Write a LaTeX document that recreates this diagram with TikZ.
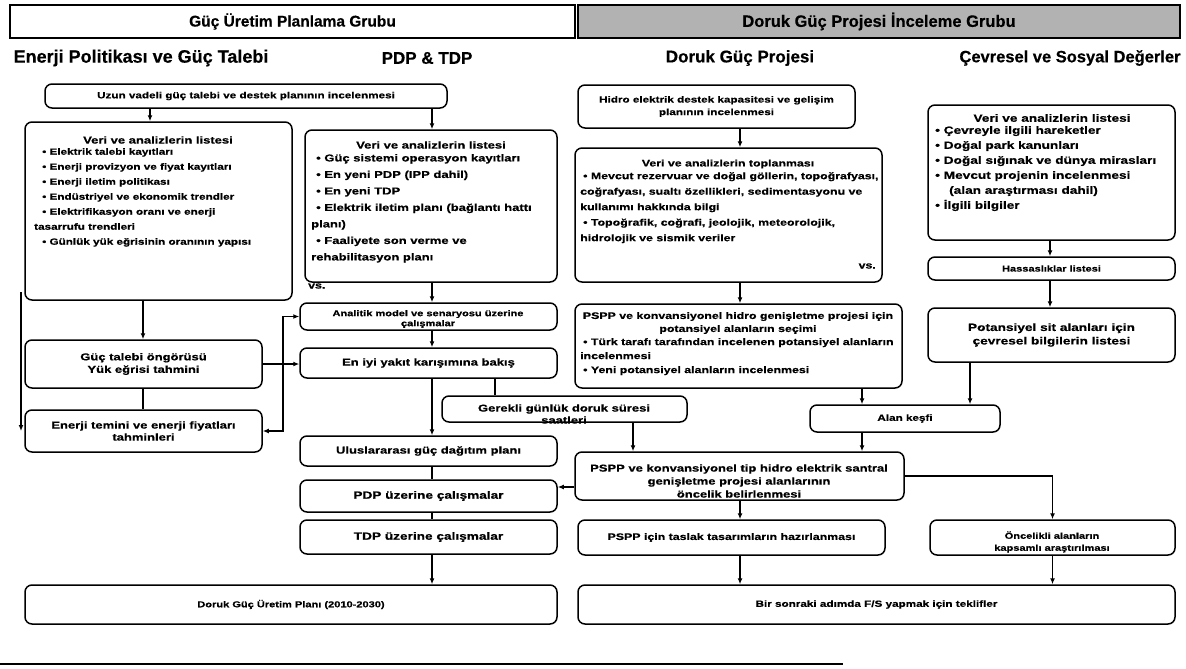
\documentclass[tikz,border=0pt]{standalone}
\usepackage{fontspec}
\setmainfont[BoldFeatures={FakeBold=0.5}]{Liberation Sans}
\newfontfamily\wf[FakeStretch=1.3,BoldFeatures={FakeBold=0.6}]{Liberation Sans}
\usetikzlibrary{arrows.meta,calc}
% wide bold text at a given size and line spacing
\newcommand\bfz[2]{\wf\bfseries\fontsize{#1}{#2}\selectfont}
% box given by its corners (x1,y1) and (x2,y2)
\newcommand\mkbox[7][]{\node[box,minimum width={#5-#3},minimum height={#6-#4},#1] (#2) at ({(#3+#5)/2},{(#4+#6)/2}) {#7};}
\begin{document}
\begin{tikzpicture}[x=1pt,y=-1pt,
  box/.style={draw,line width=1.5pt,rounded corners=7pt,fill=white,inner sep=1pt,align=center,
              font=\bfz{9.5}{11.5}},
  hdr/.style={draw,line width=1.7pt,inner sep=0pt},
  colhd/.style={inner sep=0pt},
  txt/.style={inner sep=0pt,font=\bfz{9.5}{11.5}},
  lst/.style={inner sep=0pt,align=left,anchor=north west},
  arr/.style={-{Latex[length=6pt,width=5pt]},line width=1.2pt},
  ln/.style={line width=1.2pt}]
\useasboundingbox (0,0) rectangle (1186,669);

% group headers
\node[hdr,minimum width=565,minimum height=33,font=\bfseries\fontsize{15.5}{17}\selectfont] (gup) at (292.5,21.5) {Güç Üretim Planlama Grubu};
\node[hdr,fill=black!30,minimum width=602,minimum height=33,font=\bfseries\fontsize{16.5}{18}\selectfont] (dgp) at (879,21.5) {Doruk Güç Projesi İnceleme Grubu};

% column headings
\node[colhd,font=\bfseries\fontsize{18}{20}\selectfont] (c1) at (141,58) {Enerji Politikası ve Güç Talebi};
\node[colhd,font=\bfseries\fontsize{17}{19}\selectfont] (c2) at (427,58) {PDP \& TDP};
\node[colhd,font=\bfseries\fontsize{17}{19}\selectfont] (c3) at (740,58) {Doruk Güç Projesi};
\node[colhd,font=\bfseries\fontsize{16.5}{19}\selectfont] (c4) at (1070,58) {Çevresel ve Sosyal Değerler};

% energy policy and demand
\mkbox[font=\bfz{9}{11}]{uzun}{45}{84}{447}{108}{Uzun vadeli güç talebi ve destek planının incelenmesi}
\mkbox{ldata}{25}{122}{292}{300}{}
\node[txt,font=\bfz{10}{12}] (ldatah) at (158,140) {Veri ve analizlerin listesi};
\node[txt,lst,font=\bfz{9}{15}] (ldatal) at (34,148) {%
\hspace*{8pt}• Elektrik talebi kayıtları\\
\hspace*{8pt}• Enerji provizyon ve fiyat kayıtları\\
\hspace*{8pt}• Enerji iletim politikası\\
\hspace*{8pt}• Endüstriyel ve ekonomik trendler\\
\hspace*{8pt}• Elektrifikasyon oranı ve enerji\\
tasarrufu trendleri\\
\hspace*{8pt}• Günlük yük eğrisinin oranının yapısı};
\mkbox[font=\bfz{10}{12.5}]{guc}{25}{340}{262}{388}{Güç talebi öngörüsü\\Yük eğrisi tahmini}
\mkbox[font=\bfz{10}{12}]{enerji}{25}{410}{262}{452}{Enerji temini ve enerji fiyatları\\tahminleri}

% PDP & TDP
\mkbox{pdata}{305}{130}{557}{282}{}
\node[txt,font=\bfz{10}{12}] (pdatah) at (431,145) {Veri ve analizlerin listesi};
\node[txt,lst,font=\bfz{10}{16.5}] (pdatal) at (311,154) {%
\hspace*{5pt}• Güç sistemi operasyon kayıtları\\
\hspace*{5pt}• En yeni PDP (IPP dahil)\\
\hspace*{5pt}• En yeni TDP\\
\hspace*{5pt}• Elektrik iletim planı (bağlantı hattı\\
planı)\\
\hspace*{5pt}• Faaliyete son verme ve\\
rehabilitasyon planı};
\node[txt,anchor=west] (pdatavs) at (308,286) {vs.};
\mkbox{analitik}{300}{303}{557}{330}{}
\node[txt,align=center,font=\bfz{8.5}{10}] (analitikt) at (428,319) {Analitik model ve senaryosu üzerine\\çalışmalar};
\mkbox[font=\bfz{10}{12}]{eniyi}{300}{348}{557}{378}{En iyi yakıt karışımına bakış}
\mkbox{gerekli}{442}{396}{687}{422}{}
\node[txt,align=center,font=\bfz{10}{12}] (gereklit) at (564,414) {Gerekli günlük doruk süresi\\saatleri};
\mkbox[font=\bfz{10}{12}]{ulus}{300}{436}{557}{466}{Uluslararası güç dağıtım planı}
\mkbox[font=\bfz{10.5}{12}]{pdpuz}{300}{480}{557}{512}{PDP üzerine çalışmalar}
\mkbox[font=\bfz{10.5}{12}]{tdpuz}{300}{520}{557}{554}{TDP üzerine çalışmalar}
\mkbox[font=\bfz{8.5}{11}]{doruk}{25}{585}{557}{624}{Doruk Güç Üretim Planı (2010-2030)}

% peak power project
\mkbox[font=\bfz{9}{12.5}]{hidro}{578}{85}{855}{128}{Hidro elektrik destek kapasitesi ve gelişim\\planının incelenmesi}
\mkbox{vtop}{575}{148}{882}{282}{}
\node[txt] (vtoph) at (728,164) {Veri ve analizlerin toplanması};
\node[txt,lst,font=\bfz{9.5}{15.5}] (vtopl) at (580,172) {%
\hspace*{3pt}• Mevcut rezervuar ve doğal göllerin, topoğrafyası,\\
coğrafyası, sualtı özellikleri, sedimentasyonu ve\\
kullanımı hakkında bilgi\\
\hspace*{3pt}• Topoğrafik, coğrafi, jeolojik, meteorolojik,\\
hidrolojik ve sismik veriler};
\node[txt,anchor=east] (vtopvs) at (876,266) {vs.};
\mkbox{pspppot}{575}{304}{902}{388}{}
\node[txt,align=center,font=\bfz{9.5}{13}] (pspppoth) at (738,323) {PSPP ve konvansiyonel hidro genişletme projesi için\\potansiyel alanların seçimi};
\node[txt,lst,font=\bfz{9.5}{14}] (pspppotl) at (580,338) {%
\hspace*{3pt}• Türk tarafı tarafından incelenen potansiyel alanların\\
incelenmesi\\
\hspace*{3pt}• Yeni potansiyel alanların incelenmesi};
\mkbox[font=\bfz{9}{11}]{alan}{810}{405}{1000}{432}{Alan keşfi}
\mkbox{psppkonv}{575}{452}{904}{500}{}
\node[txt,align=center,font=\bfz{10}{13}] (psppkonvt) at (739,481) {PSPP ve konvansiyonel tip hidro elektrik santral\\genişletme projesi alanlarının\\öncelik belirlenmesi};
\mkbox{pspptaslak}{578}{520}{885}{555}{PSPP için taslak tasarımların hazırlanması}
\mkbox[font=\bfz{9}{11}]{bir}{578}{585}{1175}{624}{Bir sonraki adımda F/S yapmak için teklifler}

% environmental and social values
\mkbox{cdata}{928}{105}{1175}{240}{}
\node[txt,font=\bfz{10.5}{12}] (cdatah) at (1052,118) {Veri ve analizlerin listesi};
\node[txt,lst,font=\bfz{10.5}{15}] (cdatal) at (935,126) {%
• Çevreyle ilgili hareketler\\
• Doğal park kanunları\\
• Doğal sığınak ve dünya mirasları\\
• Mevcut projenin incelenmesi\\
\hspace*{14pt}(alan araştırması dahil)\\
• İlgili bilgiler};
\mkbox[font=\bfz{8.5}{11}]{hass}{928}{257}{1175}{280}{Hassaslıklar listesi}
\mkbox[font=\bfz{10.5}{13.5}]{potsit}{928}{308}{1175}{362}{Potansiyel sit alanları için\\çevresel bilgilerin listesi}
\mkbox{oncelikli}{930}{520}{1175}{555}{}
\node[txt,align=center,font=\bfz{8.5}{12}] (oncelikt) at (1052,542) {Öncelikli alanların\\kapsamlı araştırılması};

% connectors: left column
\draw[arr] (150,0 |- uzun.south) -- (150,0 |- ldata.north);
\draw[arr] (432,0 |- uzun.south) -- (432,0 |- pdata.north);
\draw[arr] (143,0 |- ldata.south) -- (143,0 |- guc.north);
\draw[ln]  (143,0 |- guc.south) -- (143,0 |- enerji.north);
\coordinate (lsrc) at (21,292);
\draw[arr] (lsrc) -- (lsrc |- enerji.east);
\coordinate (bus) at (283,0 |- guc.east);
\draw[arr] (guc.east) -- (guc.east -| eniyi.west);
\draw[arr] (bus) |- (analitik.west);
\draw[arr] (bus) |- (enerji.east);

% connectors: PDP & TDP
\draw[arr] (432,0 |- pdata.south) -- (432,0 |- analitik.north);
\draw[arr] (432,0 |- analitik.south) -- (432,0 |- eniyi.north);
\draw[arr] (432,0 |- eniyi.south) -- (432,0 |- ulus.north);
\draw[ln]  (495,0 |- eniyi.south) -- (495,0 |- gerekli.north);
\draw[arr] (633,0 |- gerekli.south) -- (633,0 |- psppkonv.north);
\draw[ln]  (432,0 |- ulus.south) -- (432,0 |- pdpuz.north);
\draw[ln]  (432,0 |- pdpuz.south) -- (432,0 |- tdpuz.north);
\draw[arr] (432,0 |- tdpuz.south) -- (432,0 |- doruk.north);
\draw[arr] (psppkonv.west |- 0,487) -- (pdpuz.east |- 0,487);

% connectors: right columns
\draw[arr] (740,0 |- hidro.south) -- (740,0 |- vtop.north);
\draw[arr] (740,0 |- vtop.south) -- (740,0 |- pspppot.north);
\draw[arr] (862,0 |- pspppot.south) -- (862,0 |- alan.north);
\draw[arr] (970,0 |- potsit.south) -- (970,0 |- alan.north);
\draw[arr] (1050,0 |- cdata.south) -- (1050,0 |- hass.north);
\draw[arr] (1050,0 |- hass.south) -- (1050,0 |- potsit.north);
\draw[arr] (862,0 |- alan.south) -- (862,0 |- psppkonv.north);
\draw[arr] (740,0 |- psppkonv.south) -- (740,0 |- pspptaslak.north);
\draw[arr] (psppkonv.east) -| (oncelikli.north);
\draw[arr] (740,0 |- pspptaslak.south) -- (740,0 |- bir.north);
\draw[arr] (oncelikli.south) -- (oncelikli.south |- bir.north);

% bottom rule
\draw[line width=1.5pt] (0,664) -- (843,664);
\end{tikzpicture}
\end{document}
